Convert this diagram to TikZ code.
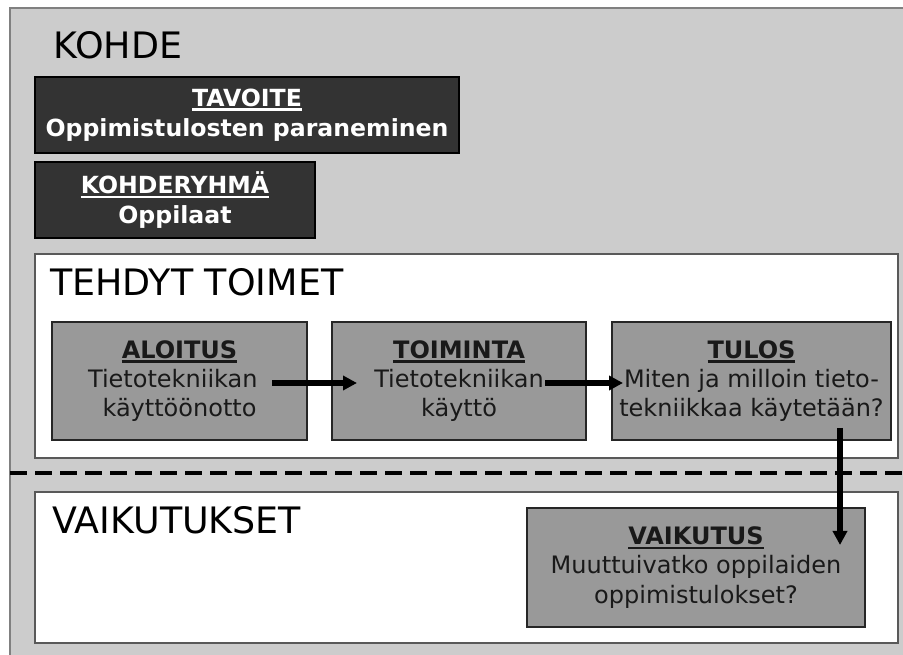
\documentclass[tikz,border=0pt]{standalone}
\usepackage{fontspec}
\setmainfont{DejaVu Sans}
\usetikzlibrary{arrows.meta}
\newcommand{\headline}[1]{\vtop{\hbox{\bfseries #1}\kern1.4pt\hrule height 1.7pt}}

\begin{document}
\begin{tikzpicture}[x=0.75pt, y=-0.75pt, panelStyle/.style={rectangle, draw=black!65, fill=white, line width=0.9pt, inner sep=0pt}, darkStyle/.style={rectangle, draw=black, fill=black!80, text=white, line width=0.8pt, align=center, minimum height=57pt, font=\fontsize{17.7}{22.5}\selectfont\bfseries}, stepStyle/.style={rectangle, draw=black!85, fill=black!40, text=black!90, line width=0.8pt, align=center, minimum height=88.5pt, inner sep=3pt, font=\fontsize{18}{22}\selectfont}, titleStyle/.style={anchor=base west, inner sep=0pt, font=\fontsize{27.3}{32}\selectfont}, flowStyle/.style={-{Triangle[length=10.5pt, width=10.5pt]}, line width=4pt}, dashStyle/.style={line width=3pt, dash pattern=on 12.75pt off 6pt}]
                    \clip (0,0) rectangle (903,655);
                    \draw[draw=black!50, fill=black!20, line width=1.5pt] (10,8) rectangle (940,690);

                    \node[titleStyle] (kohde_T) at (53, 59) {KOHDE};
                    \node[darkStyle, minimum width=318pt] (tavoite)    at (247, 115) {\headline{TAVOITE}\\Oppimistulosten paraneminen};
                    \node[darkStyle, minimum width=210pt] (kohderyhma) at (175, 200) {\headline{KOHDERYHMÄ}\\Oppilaat};

                    \coordinate (cut_L) at ( 10, 473);
                    \coordinate (cut_R) at (903, 473);
                    \draw[dashStyle] (cut_L) -- (cut_R);

                    \node[panelStyle, minimum width=647.25pt, minimum height=153pt]    (toimet_P)     at (466.5, 356)   {};
                    \node[panelStyle, minimum width=647.25pt, minimum height=113.25pt] (vaikutukset_P) at (466.5, 567.5) {};
                    \node[titleStyle] (toimet_T)      at (50, 296) {TEHDYT TOIMET};
                    \node[titleStyle] (vaikutukset_T) at (52, 533) {VAIKUTUKSET};

                    \node[stepStyle, minimum width=191.25pt] (aloitus)  at (179.5, 381) {\headline{ALOITUS}\\Tietotekniikan\kern10pt\\käyttöönotto};
                    \node[stepStyle, minimum width=190.5pt]  (toiminta) at (459,   381) {\headline{TOIMINTA}\\Tietotekniikan\\käyttö};
                    \node[stepStyle, minimum width=209.25pt] (tulos)    at (751.5, 381) {\headline{TULOS}\\Miten ja milloin tieto-\\tekniikkaa käytetään?};
                    \node[stepStyle, minimum width=253.5pt, minimum height=89.25pt] (vaikutus) at (696, 567.5) {\headline{VAIKUTUS}\\Muuttuivatko oppilaiden\\oppimistulokset?};

                    \coordinate (aloitus_S1)  at (272, 383);
                    \coordinate (toiminta_S0) at (357, 383);
                    \coordinate (toiminta_S1) at (545, 383);
                    \coordinate (tulos_S0)    at (623, 383);
                    \coordinate (tulos_S1)    at (840, 428);
                    \coordinate (vaikutus_S0) at (840, 545);

                    \draw[flowStyle] (aloitus_S1.center) -- (toiminta_S0.center);
                    \draw[flowStyle] (toiminta_S1.center) -- (tulos_S0.center);
                    \draw[flowStyle] (tulos_S1.center) -- (vaikutus_S0.center);
                \end{tikzpicture}
\end{document}
